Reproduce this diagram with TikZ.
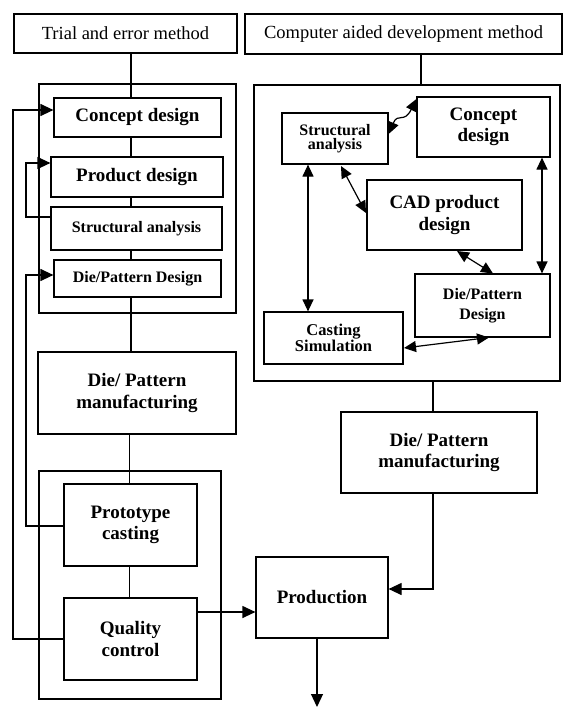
\documentclass[tikz,border=0pt]{standalone}
\usepackage{fontspec}
\setmainfont{Liberation Serif}
\usetikzlibrary{arrows.meta,calc}
\begin{document}
\begin{tikzpicture}[x=1pt,y=-1pt,
  every path/.style={line width=1.2pt},
  box/.style={draw,line width=1.2pt,inner sep=0pt,align=center,font=\fontsize{19}{21.5}\selectfont\bfseries},
  sbox/.style={box,font=\fontsize{16}{17}\selectfont\bfseries},
  tbox/.style={box,font=\fontsize{18.5}{21}\selectfont},
  frame/.style={draw,line width=1.2pt,inner sep=0pt},
  arr/.style={-{Triangle[length=13pt,width=12pt]}},
  darr/.style={{Triangle[length=12pt,width=11pt]}-{Triangle[length=12pt,width=11pt]}}]
\useasboundingbox (0,0) rectangle (565,709);
% ---------- left column ----------
\node[tbox,minimum width=223,minimum height=39] (trial) at (125.5,33.5) {Trial and error method};
\node[frame,minimum width=197,minimum height=229] (outerL) at (137.5,198.5) {};
\node[box,minimum width=167,minimum height=39] (conceptL) at (137.5,117.5) {Concept design};
\node[box,minimum width=172,minimum height=40] (productL) at (137,177) {Product design};
\node[sbox,minimum width=171,minimum height=43] (structL) at (136.5,228.5) {Structural analysis};
\node[sbox,minimum width=167,minimum height=37] (dieL) at (137.5,278.5) {Die/Pattern Design};
\node[box,minimum width=198,minimum height=82] (dpmL) at (137,393) {Die/ Pattern\\manufacturing};
\node[frame,minimum width=182,minimum height=228] (outerL2) at (130,585) {};
\node[box,minimum width=133,minimum height=82] (proto) at (130.5,525) {Prototype\\casting};
\node[box,minimum width=133,minimum height=82] (quality) at (130.5,639) {Quality\\control};
\coordinate (xl) at (131,0);
\draw (trial.south -| xl) -- (conceptL.north -| xl);
\draw (conceptL.south -| xl) -- (productL.north -| xl);
\draw (productL.south -| xl) -- (structL.north -| xl);
\draw (structL.south -| xl) -- (dieL.north -| xl);
\draw (dieL.south -| xl) -- (dpmL.north -| xl);
\coordinate (xm) at (129.5,0);
\draw (dpmL.south -| xm) -- (proto.north -| xm);
\draw (proto.south -| xm) -- (quality.north -| xm);
% feedback loops
\coordinate (fa) at (13,639);
\coordinate (fb) at (13,110);
\draw[arr] (quality.west) -- (fa) -- (fb) -- (conceptL.west |- fb);
\coordinate (fc) at (26,217);
\coordinate (fd) at (26,163);
\draw[arr] (structL.west |- fc) -- (fc) -- (fd) -- (productL.west |- fd);
\coordinate (fe) at (26,526);
\coordinate (ff) at (26,275);
\draw[arr] (proto.west |- fe) -- (fe) -- (ff) -- (dieL.west |- ff);
% ---------- right column ----------
\node[tbox,minimum width=317,minimum height=40] (cadt) at (403.5,34) {Computer aided development method};
\node[frame,minimum width=306,minimum height=296] (outerR) at (407,233) {};
\node[sbox,minimum width=106,minimum height=51,font=\fontsize{16}{14.5}\selectfont\bfseries] (structR) at (335,138.5) {Structural\\analysis};
\node[box,minimum width=133,minimum height=60] (conceptR) at (483.5,127) {Concept\\design};
\node[box,minimum width=155,minimum height=70] (cadR) at (444.5,215) {CAD product\\design};
\node[sbox,minimum width=135,minimum height=63,font=\fontsize{16}{20}\selectfont\bfseries] (dieR) at (482.5,305.5) {Die/Pattern\\Design};
\node[sbox,minimum width=139,minimum height=52,font=\fontsize{16.5}{15}\selectfont\bfseries] (castR) at (333.5,338) {Casting\\Simulation};
\node[box,minimum width=196,minimum height=81] (dpmR) at (439,452.5) {Die/ Pattern\\manufacturing};
\node[box,minimum width=132,minimum height=81] (prod) at (322,597.5) {Production};
\coordinate (xr) at (421,0);
\draw (cadt.south -| xr) -- (outerR.north -| xr);
\coordinate (xs) at (433,0);
\draw (outerR.south -| xs) -- (dpmR.north -| xs);
\coordinate (pa) at (433,589);
\draw[arr] (dpmR.south -| pa) -- (pa) -- (prod.east |- pa);
\coordinate (qa) at (0,612);
\draw[arr] (quality.east |- qa) -- (prod.west |- qa);
\coordinate (pend) at (317,707);
\draw[arr] (prod.south -| pend) -- (pend);
% interactions
\draw[darr] (structR.east |- 0,134) .. controls (398,112) and (404,124) .. (conceptR.west |- 0,99);
\draw[darr] (341,166) -- (366,213);
\coordinate (xv) at (308,0);
\draw[darr] (structR.south -| xv) -- (castR.north -| xv);
\coordinate (xw) at (542,0);
\draw[darr] (conceptR.south -| xw) -- (dieR.north -| xw);
\draw[darr] (457,251) -- (493,273.5);
\draw[darr] (404,348) -- (489,337.5);
\end{tikzpicture}
\end{document}
